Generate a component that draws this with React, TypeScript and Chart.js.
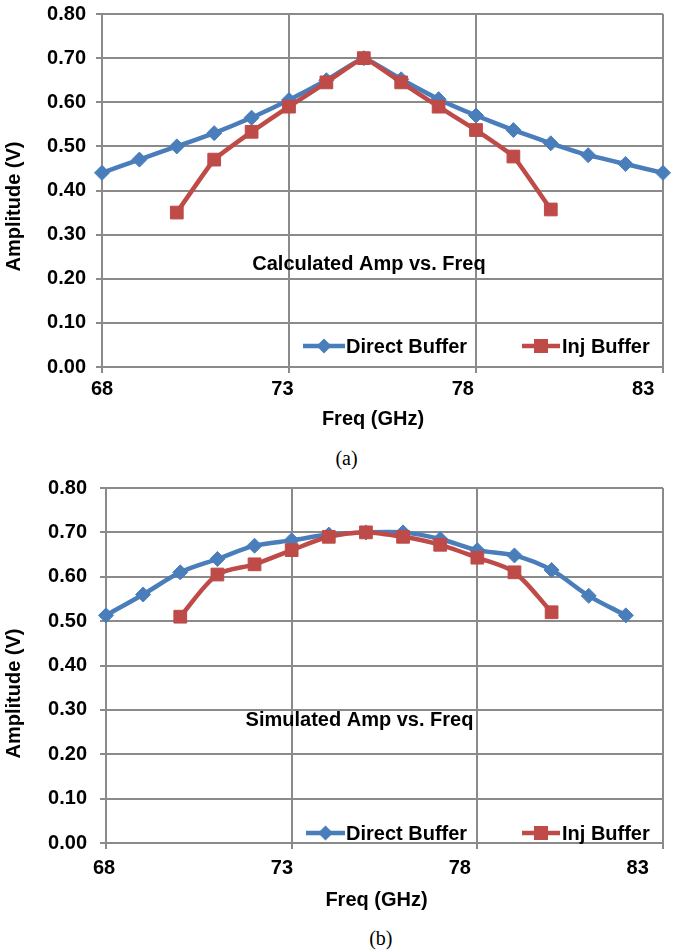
import React, { useEffect, useRef } from "react";
import { Chart, registerables } from "chart.js";

Chart.register(...registerables);

// ---------- data ----------
const FREQ_GHZ = [68, 69, 70, 71, 72, 73, 74, 75, 76, 77, 78, 79, 80, 81, 82, 83];
const X_TICKS = [68, 73, 78, 83];
const Y_TICKS = [0, 0.1, 0.2, 0.3, 0.4, 0.5, 0.6, 0.7, 0.8];

const CALC_DIRECT = [0.44, 0.47, 0.5, 0.53, 0.565, 0.605, 0.65, 0.7, 0.652, 0.607, 0.57, 0.537, 0.507, 0.48, 0.46, 0.44];
const CALC_INJ = [null, null, 0.35, 0.47, 0.533, 0.59, 0.645, 0.7, 0.645, 0.59, 0.537, 0.477, 0.357, null, null, null];
const SIM_DIRECT = [0.513, 0.56, 0.61, 0.64, 0.67, 0.682, 0.695, 0.7, 0.7, 0.685, 0.66, 0.648, 0.615, 0.557, 0.513, null];
const SIM_INJ = [null, null, 0.51, 0.605, 0.628, 0.66, 0.69, 0.7, 0.69, 0.672, 0.643, 0.61, 0.52, null, null, null];

const SERIES_NAMES = ["Direct Buffer", "Inj Buffer"];
const X_TITLE = "Freq (GHz)";
const Y_TITLE = "Amplitude (V)";
const CAPTION_A = "Calculated Amp vs. Freq";
const CAPTION_B = "Simulated Amp vs. Freq";
const SUB_A = "(a)";
const SUB_B = "(b)";

// ---------- style ----------
const FONT = '"Liberation Sans", Arial, Helvetica, sans-serif';
const BLUE = "#4a7ebb";
const RED = "#be4b48";
const GRID = "#8a8a8a";
const LINE_W = 4.5;
const BOLD = { family: FONT, size: 20, weight: "bold" as const };

const toPoints = (vals: (number | null)[]) =>
  FREQ_GHZ.map((x, i) => ({ x, y: vals[i] })).filter((p) => p.y !== null) as { x: number; y: number }[];

const overlayPlugin = {
  id: "overlay",
  afterDatasetsDraw(chart: any, _args: any, o: any) {
    const ctx = chart.ctx as CanvasRenderingContext2D;
    ctx.save();
    ctx.font = `bold 20px ${FONT}`;
    ctx.fillStyle = "#000";
    ctx.textBaseline = "middle";
    ctx.textAlign = "center";
    ctx.fillText(o.caption, o.captionX, o.captionY);
    ctx.fillText(X_TITLE, o.xTitleX, o.xTitleY);
    ctx.save();
    ctx.translate(o.yTitleX, o.yTitleY);
    ctx.rotate(-Math.PI / 2);
    ctx.fillText(Y_TITLE, 0, 0);
    ctx.restore();

    // legend
    const y = o.legendY;
    ctx.lineWidth = LINE_W;
    ctx.strokeStyle = BLUE;
    ctx.beginPath();
    ctx.moveTo(o.blueX1, y);
    ctx.lineTo(o.blueX2, y);
    ctx.stroke();
    const bx = (o.blueX1 + o.blueX2) / 2;
    ctx.fillStyle = BLUE;
    ctx.beginPath();
    ctx.moveTo(bx, y - 7.5);
    ctx.lineTo(bx + 7.5, y);
    ctx.lineTo(bx, y + 7.5);
    ctx.lineTo(bx - 7.5, y);
    ctx.closePath();
    ctx.fill();
    ctx.fillStyle = "#000";
    ctx.textAlign = "left";
    ctx.fillText(SERIES_NAMES[0], o.blueX2 + 1, y + 1);

    ctx.strokeStyle = RED;
    ctx.beginPath();
    ctx.moveTo(o.redX1, y);
    ctx.lineTo(o.redX2, y);
    ctx.stroke();
    const rx = (o.redX1 + o.redX2) / 2;
    ctx.fillStyle = RED;
    ctx.fillRect(rx - 7, y - 7, 14, 14);
    ctx.fillStyle = "#000";
    ctx.fillText(SERIES_NAMES[1], o.redX2 + 2, y + 1);
    ctx.restore();
  },
};

type PanelProps = {
  top: number;
  height: number;
  areaLeft: number;
  areaTop: number;
  areaBottom: number;
  yTickPad: number;
  xLabelPad: number;
  labelMin: number;
  labelMax: number;
  direct: (number | null)[];
  inj: (number | null)[];
  tension: number;
  overlay: any;
};

function Panel(p: PanelProps) {
  const ref = useRef<HTMLCanvasElement | null>(null);
  useEffect(() => {
    if (!ref.current) return;
    const padBottom = p.height - p.areaBottom - 46;
    const chart = new Chart(ref.current, {
      type: "line",
      data: {
        datasets: [
          {
            label: SERIES_NAMES[0],
            data: toPoints(p.direct),
            borderColor: BLUE,
            backgroundColor: BLUE,
            borderWidth: LINE_W,
            pointStyle: "rectRot",
            pointRadius: 7.5,
            pointBorderWidth: 1,
            pointBackgroundColor: BLUE,
            pointBorderColor: BLUE,
            tension: p.tension,
            clip: false as any,
            order: 1,
          },
          {
            label: SERIES_NAMES[1],
            data: toPoints(p.inj),
            borderColor: RED,
            backgroundColor: RED,
            borderWidth: LINE_W,
            pointStyle: "rect",
            pointRadius: 9,
            pointBorderWidth: 1,
            pointBackgroundColor: RED,
            pointBorderColor: RED,
            tension: p.tension,
            clip: false as any,
            order: 0,
          },
        ],
      },
      options: {
        responsive: false,
        animation: false,
        devicePixelRatio: 1,
        layout: { padding: { left: 0, right: 5, top: p.areaTop, bottom: padBottom } },
        plugins: {
          legend: { display: false },
          tooltip: { enabled: false },
          title: { display: false },
          overlay: p.overlay,
        } as any,
        scales: {
          x: {
            type: "linear",
            position: "bottom",
            weight: 0,
            min: FREQ_GHZ[0],
            max: FREQ_GHZ[FREQ_GHZ.length - 1],
            afterBuildTicks: (s: any) => {
              s.ticks = X_TICKS.map((v) => ({ value: v }));
            },
            afterFit: (s: any) => {
              s.height = 6;
              s.paddingLeft = 0;
              s.paddingRight = 0;
            },
            ticks: { display: false },
            grid: { color: GRID, lineWidth: 2, tickLength: 6, drawTicks: true },
            border: { color: GRID, width: 2 },
          },
          x2: {
            type: "linear",
            position: "bottom",
            weight: 1,
            min: p.labelMin,
            max: p.labelMax,
            afterBuildTicks: (s: any) => {
              s.ticks = X_TICKS.map((v) => ({ value: v }));
            },
            afterFit: (s: any) => {
              s.height = 40;
              s.paddingLeft = 0;
              s.paddingRight = 0;
            },
            ticks: {
              font: BOLD,
              color: "#000",
              padding: p.xLabelPad,
              maxRotation: 0,
              autoSkip: false,
              callback: (v: any) => String(v),
            },
            grid: { display: false, drawTicks: false, tickLength: 0 },
            border: { display: false },
          },
          y: {
            type: "linear",
            position: "left",
            min: 0,
            max: 0.8,
            afterBuildTicks: (s: any) => {
              s.ticks = Y_TICKS.map((v) => ({ value: v }));
            },
            afterFit: (s: any) => {
              s.width = p.areaLeft;
              s.paddingTop = 0;
              s.paddingBottom = 0;
            },
            ticks: {
              font: BOLD,
              color: "#000",
              padding: p.yTickPad,
              callback: (v: any) => Number(v).toFixed(2),
            },
            grid: { color: GRID, lineWidth: 2, tickLength: 6, drawTicks: true },
            border: { color: GRID, width: 2 },
          },
        },
      } as any,
      plugins: [overlayPlugin],
    });
    return () => chart.destroy();
  }, []);
  return (
    <canvas
      ref={ref}
      width={673}
      height={p.height}
      style={{ position: "absolute", left: 0, top: p.top, width: 673, height: p.height }}
    />
  );
}

const subStyle = (x: number, y: number): React.CSSProperties => ({
  position: "absolute",
  left: x,
  top: y,
  transform: "translate(-50%, -50%)",
  fontFamily: '"Liberation Serif", "Times New Roman", serif',
  fontSize: 20,
  lineHeight: 1,
  color: "#000",
  whiteSpace: "nowrap",
});

export default function App() {
  return (
    <div style={{ position: "absolute", left: 0, top: 0, width: 673, height: 952, background: "#fff", overflow: "hidden" }}>
      <Panel
        top={0}
        height={440}
        areaLeft={102}
        areaTop={14}
        areaBottom={367}
        yTickPad={10}
        xLabelPad={4}
        labelMin={68}
        labelMax={83.55}
        direct={CALC_DIRECT}
        inj={CALC_INJ}
        tension={0.1}
        overlay={{
          caption: CAPTION_A,
          captionX: 369,
          captionY: 264,
          xTitleX: 373,
          xTitleY: 419.5,
          yTitleX: 14,
          yTitleY: 206.5,
          legendY: 346,
          blueX1: 303,
          blueX2: 345,
          redX1: 522,
          redX2: 560,
        }}
      />
      <div style={subStyle(346.5, 458)}>{SUB_A}</div>
      <Panel
        top={470}
        height={440}
        areaLeft={106}
        areaTop={18}
        areaBottom={373}
        yTickPad={13}
        xLabelPad={7}
        labelMin={68.056}
        labelMax={83.71}
        direct={SIM_DIRECT}
        inj={SIM_INJ}
        tension={0.3}
        overlay={{
          caption: CAPTION_B,
          captionX: 359.5,
          captionY: 250.5,
          xTitleX: 376.5,
          xTitleY: 430,
          yTitleX: 14,
          yTitleY: 223.5,
          legendY: 363,
          blueX1: 306,
          blueX2: 345,
          redX1: 522,
          redX2: 560,
        }}
      />
      <div style={subStyle(380.8, 938)}>{SUB_B}</div>
    </div>
  );
}
